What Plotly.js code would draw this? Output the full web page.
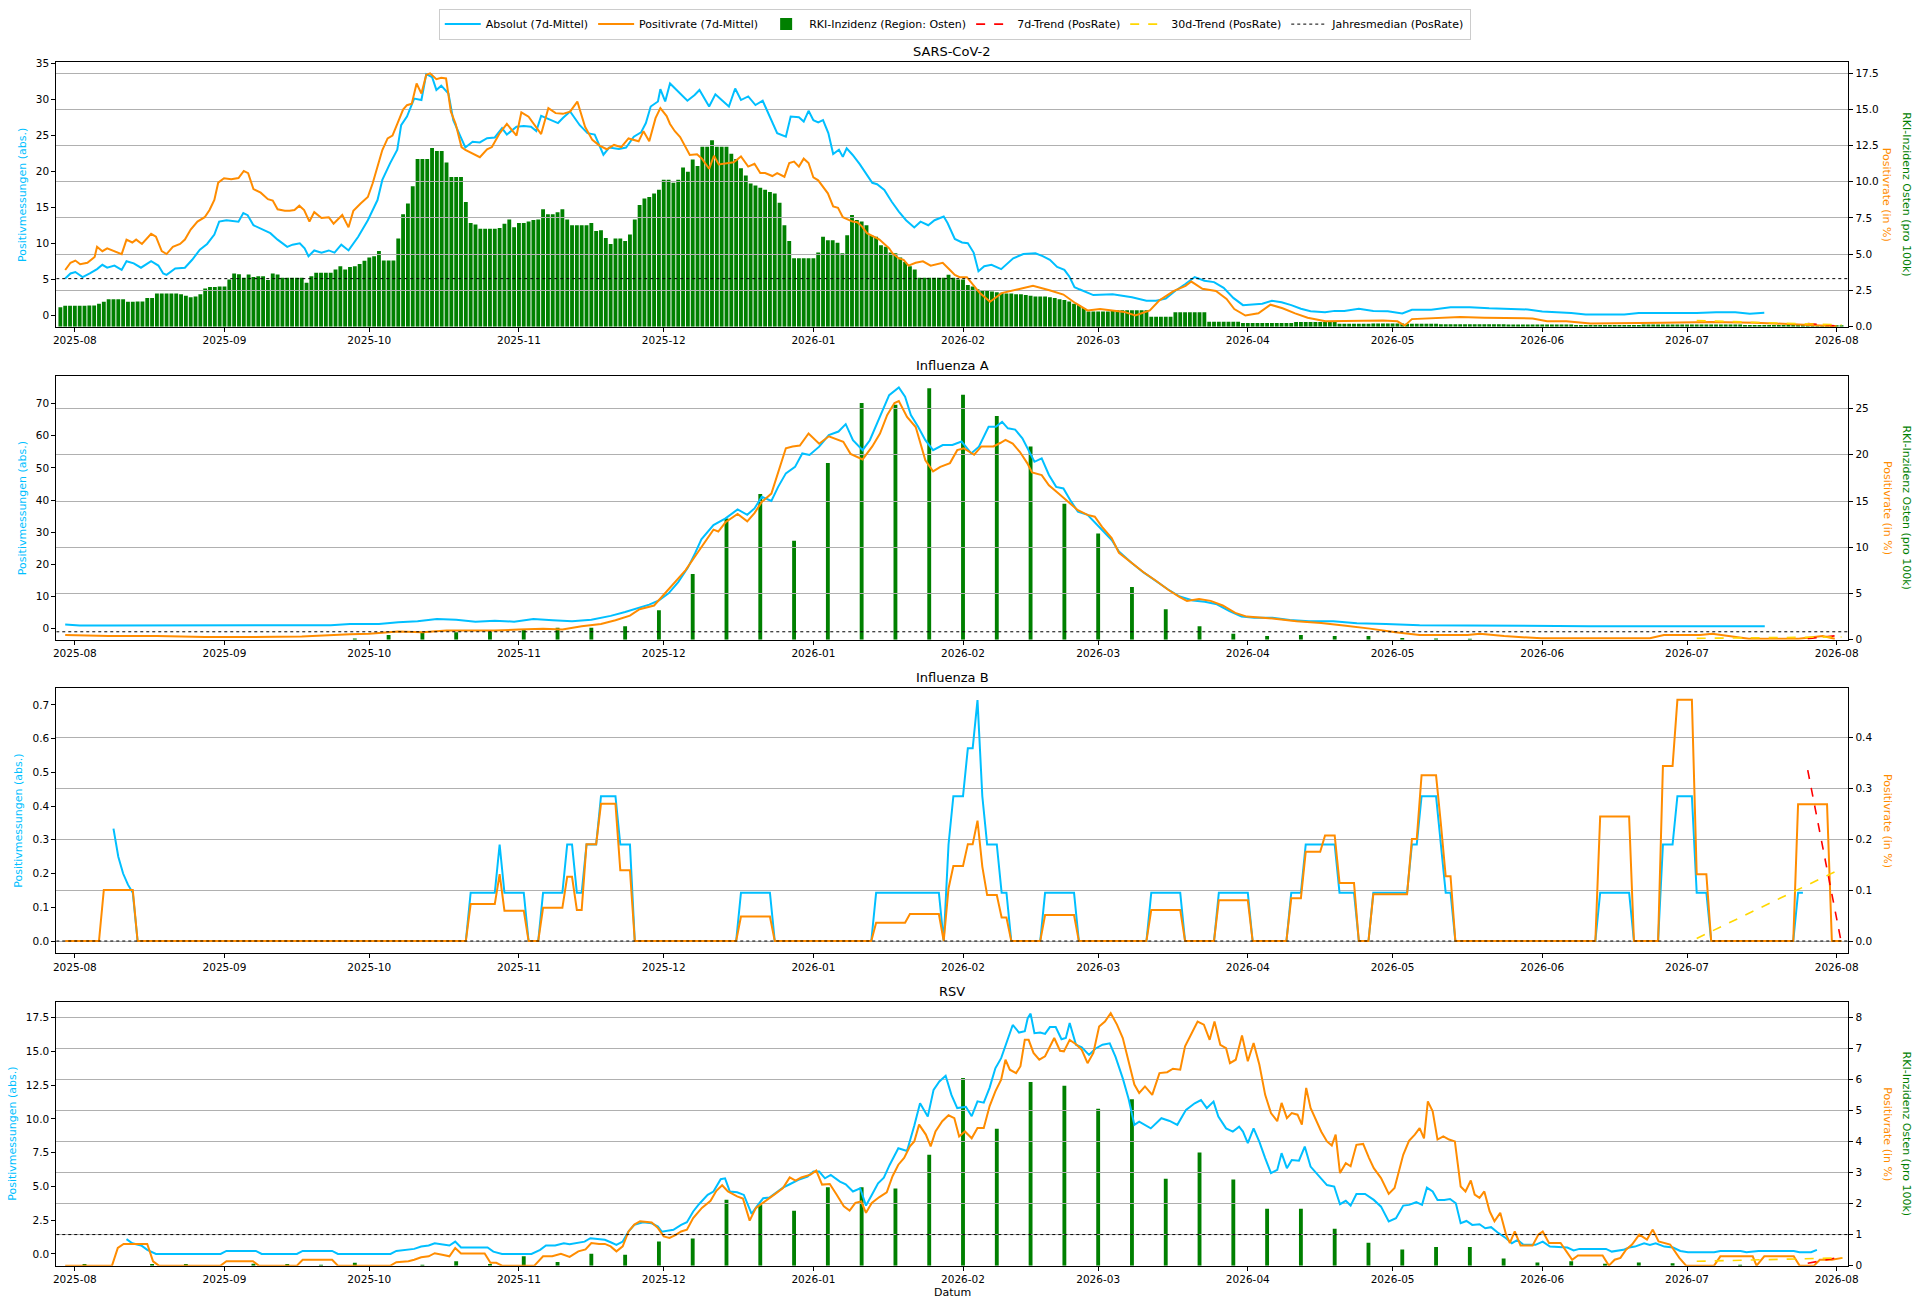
<!DOCTYPE html>
<html>
<head>
<meta charset="utf-8">
<script src="https://cdn.plot.ly/plotly-3.0.1.min.js"></script>
<style>html,body{margin:0;padding:0;background:#fff;}#chart{width:1918px;height:1306px;}</style>
</head>
<body>
<div id="chart"></div>
<script>
// ================= DATA =================
// day 0 = 2025-07-29
const xRangeDays = [-0.85, 370.4];

// --- SARS-CoV-2 ---
const sarsAbs = [[1,5.1],[2.1,5.8],[3.1,6.0],[4.6,5.3],[6.1,5.8],[7.6,6.4],[8.7,7.0],[9.7,6.6],[11.2,6.9],[12.7,6.3],[13.7,7.5],[15.2,7.2],[16.7,6.6],[18.8,7.5],[20.3,6.9],[21.3,5.8],[22,5.6],[23.8,6.5],[25.8,6.6],[27.3,7.7],[28.9,9.1],[30.4,9.9],[31.9,11.2],[32.9,13.0],[34.4,13.2],[35.9,13.1],[36.9,13.0],[37.9,14.2],[38.8,13.9],[40,12.5],[42,11.9],[43.5,11.4],[45,10.5],[47,9.5],[48.1,9.8],[49.6,10.0],[50.6,9.3],[51.4,8.2],[52.6,9.0],[54.1,8.7],[55.6,9.0],[56.8,8.7],[58.2,9.8],[59.7,9.0],[61.7,10.9],[63.7,13.2],[65.7,16.0],[66.7,18.8],[68.3,21.1],[69.8,23.0],[70.6,26.4],[71.8,27.6],[73.3,30.1],[74.8,29.9],[75.8,33.5],[77,33.1],[77.9,31.3],[78.9,31.9],[80.4,30.8],[81.4,27.1],[82.9,24.8],[83.9,23.3],[85.4,24.1],[86.9,24.0],[88.4,24.6],[90,24.7],[91.5,26.0],[92.5,25.1],[94.5,26.2],[96,26.3],[97.5,26.2],[98.6,25.6],[99.6,27.7],[101.6,27.1],[103.1,26.7],[104.1,27.4],[105.6,28.3],[107.6,26.4],[109.2,25.3],[110.7,25.1],[112.5,22.3],[113.7,23.3],[115.7,23.1],[117.2,23.3],[118.8,24.8],[120.3,25.4],[121.3,26.7],[122.3,29.0],[123.8,29.7],[124.3,31.4],[125.3,29.7],[126.3,32.2],[127.9,31.1],[129.9,29.8],[131.4,30.6],[132.4,31.3],[134.4,29.0],[135.7,30.7],[137,29.9],[138.5,29.0],[139.8,31.5],[141,29.9],[142.5,30.4],[144,29.2],[145.5,29.8],[147.5,26.9],[148.5,25.3],[150.3,24.8],[151.3,27.6],[153,27.5],[154,26.9],[155,28.4],[156,27.1],[157,26.8],[158,27.1],[159.1,25.3],[160.1,22.4],[161.3,23.0],[162.1,22.0],[162.9,23.2],[164.1,22.3],[165.6,21.0],[167.1,19.4],[168.2,18.4],[169.2,18.2],[170.7,17.4],[172.2,15.8],[173.7,14.4],[175.2,13.2],[176.9,12.2],[178.2,13.0],[179.8,12.5],[181.1,13.2],[183,13.7],[183.8,12.8],[185.3,10.6],[186.8,10.1],[188,10.0],[189.2,8.7],[190.2,6.1],[191.4,6.8],[192.9,7.0],[194.9,6.4],[196.4,7.3],[197.4,7.9],[199.5,8.5],[201,8.5],[202,8.6],[203.5,8.2],[205,7.7],[206.5,6.7],[208,6.3],[209,5.4],[210.1,3.9],[211.1,3.6],[214,2.8],[218,2.9],[222,2.5],[225,2.0],[227,2.0],[229,2.3],[231,3.4],[233,4.3],[235,5.3],[237,4.8],[239,4.6],[241,3.8],[243,2.4],[245,1.4],[247,1.5],[249,1.6],[251,2.0],[253,1.8],[255,1.4],[257,0.9],[259,0.55],[262,0.4],[264,0.6],[266,0.6],[269,0.9],[272,0.6],[275,0.55],[278,0.25],[280,0.75],[284,0.75],[288,1.1],[292,1.1],[296,0.95],[300,0.85],[304,0.8],[307,0.5],[310,0.45],[313,0.3],[316,0.1],[320,0.1],[324,0.1],[327,0.3],[331,0.3],[335,0.2],[339,0.3],[343,0.4],[347,0.4],[350,0.2],[353,0.35]];
const sarsRate = [[1,3.9],[2.1,4.4],[3.1,4.55],[4.1,4.3],[5.6,4.4],[7.1,4.8],[7.6,5.5],[8.7,5.2],[9.7,5.4],[11.2,5.2],[12.7,5.0],[13.7,6.0],[14.9,5.8],[15.7,6.0],[16.9,5.7],[18.8,6.4],[19.8,6.2],[21,5.2],[22,5.0],[23.3,5.5],[24.8,5.7],[25.8,6.0],[27,6.7],[28.4,7.25],[29.9,7.55],[30.9,8.05],[31.9,8.75],[32.7,9.94],[33.9,10.24],[35.4,10.17],[36.9,10.26],[38,10.75],[38.9,10.6],[40,9.5],[41.5,9.25],[43,8.8],[44,8.7],[45,8.1],[46.5,8.0],[47.5,8.0],[48.5,8.05],[49.5,8.35],[50.5,8.05],[51.6,7.25],[52.6,7.9],[54.1,7.5],[55.6,7.55],[56.6,7.1],[58.4,7.7],[59.7,6.85],[60.7,8.0],[62.2,8.5],[63.7,8.95],[64.7,9.9],[66.7,12.2],[67.8,13.0],[68.8,13.2],[69.8,14.0],[71,15.0],[71.8,15.3],[72.8,15.4],[73.8,16.8],[74.8,16.1],[75.8,17.4],[76.6,17.5],[77.9,17.1],[78.9,17.2],[79.9,17.15],[80.9,14.85],[81.9,14.0],[83.1,12.4],[83.9,12.2],[85.4,11.95],[86.9,11.7],[88.4,12.25],[89.4,12.4],[91,13.35],[92.5,14.0],[94.5,13.2],[95.5,14.8],[97,14.5],[98,14.05],[99.6,13.3],[101.1,15.1],[102.6,14.75],[104.1,14.7],[105.6,14.85],[107.1,15.55],[108.7,13.8],[110.2,12.9],[111.7,12.5],[113.2,12.25],[114.7,12.55],[116.2,12.4],[117.7,13.0],[119.8,12.8],[120.8,13.5],[122,12.8],[123.3,14.4],[124.3,15.1],[125.6,14.55],[126.3,14.0],[127.3,13.5],[128.4,13.1],[130.4,11.85],[131.9,11.9],[132.9,11.6],[134.4,10.9],[135.4,11.8],[136.4,11.2],[138,11.3],[139.5,11.35],[141,11.75],[142.5,11.05],[143.8,11.25],[145,10.6],[146,10.6],[147.5,10.4],[148.5,10.6],[150,10.35],[151,11.3],[152,11.4],[153,11.05],[154,11.6],[155,11.3],[156,10.3],[157,10.1],[159,9.2],[160.1,8.3],[161.1,8.2],[162.1,7.55],[163.1,7.4],[164.1,7.25],[165.1,7.2],[166.1,6.9],[167.1,6.45],[168.6,6.2],[169.7,6.0],[170.7,5.7],[171.7,5.4],[172.4,5.05],[173.7,4.7],[174.7,4.6],[175.7,4.2],[177.2,4.4],[178.7,4.5],[180.3,4.2],[181.8,4.3],[182.8,4.4],[184.3,3.9],[185.3,3.55],[186.3,3.4],[187.8,3.4],[189.4,2.75],[190.5,2.3],[192.6,1.7],[195,2.3],[198.9,2.6],[201.5,2.8],[204.9,2.5],[207.8,2.2],[210.3,1.6],[212.8,1.1],[215.4,1.2],[217.8,1.1],[220.4,1.0],[222.7,0.75],[225.7,1.1],[227.7,1.8],[230.7,2.45],[233.1,2.8],[234.3,3.1],[236.6,2.6],[239.4,2.45],[241.6,1.9],[243.2,1.2],[245.5,0.75],[248.2,0.9],[250.7,1.5],[253.2,1.25],[255.8,0.9],[258.4,0.6],[262.1,0.35],[268,0.4],[274,0.4],[277,0.35],[278.5,0.05],[280,0.5],[285,0.55],[290,0.65],[295,0.6],[300,0.55],[305,0.55],[308,0.35],[312,0.35],[317,0.2],[327,0.2],[332,0.25],[342,0.3],[351,0.25],[359,0.15],[368,0.0]];
// daily RKI values from day 0
const sarsRki = [
2.7,2.9,2.9,2.9,2.9,2.9,2.95,2.95,3.2,3.45,
3.8,3.8,3.8,3.8,3.45,3.45,3.5,3.5,4.0,4.0,
4.6,4.6,4.6,4.6,4.6,4.5,4.3,4.1,4.2,4.5,
5.3,5.5,5.5,5.6,5.6,6.55,7.4,7.3,6.8,7.25,
6.9,7.0,7.0,6.5,7.4,7.25,6.8,6.8,6.8,6.8,
6.8,6.1,7.0,7.5,7.5,7.5,7.5,7.95,8.4,7.95,
8.3,8.4,8.7,9.15,9.6,9.8,10.5,9.2,9.2,9.2,
12.25,15.6,17.1,19.5,23.3,23.3,23.3,24.8,24.4,24.4,
22.8,20.8,20.8,20.8,17.3,14.4,14.2,13.6,13.6,13.6,
13.6,13.7,14.3,14.9,13.8,14.4,14.4,14.6,14.8,14.9,
16.3,15.6,15.6,15.9,16.3,14.9,14.1,14.1,14.1,14.1,
14.4,13.3,13.4,12.3,11.5,12.25,12.25,11.9,12.8,14.9,
16.9,17.8,18.0,18.5,19.0,20.4,20.4,20.0,20.4,22.1,
21.5,23.2,22.3,25.0,25.0,25.9,25.0,25.0,25.0,24.0,
23.3,22.0,21.0,19.9,19.6,19.3,19.0,18.7,18.5,17.2,
14.1,11.9,9.5,9.5,9.5,9.5,9.5,10.3,12.5,12.0,
12.0,11.65,10.2,12.7,15.5,14.8,14.6,14.1,12.7,12.5,
11.3,11.1,10.3,10.2,9.6,9.0,8.4,7.95,6.8,6.8,
6.8,6.8,6.8,6.8,7.2,6.8,6.55,6.55,5.8,5.6,
5.2,5.1,5.0,4.9,4.8,4.7,4.6,4.6,4.5,4.5,
4.4,4.3,4.2,4.2,4.2,4.1,4.0,3.8,3.7,3.5,
3.2,3.0,2.6,2.1,2.1,2.1,2.1,2.1,2.3,2.3,
2.3,2.3,2.3,2.3,2.3,2.3,1.4,1.4,1.4,1.4,
1.4,2.0,2.0,2.0,2.0,2.0,2.0,2.0,0.7,0.7,
0.7,0.7,0.7,0.7,0.7,0.5,0.5,0.5,0.5,0.5,
0.5,0.5,0.5,0.5,0.5,0.5,0.65,0.65,0.65,0.65,
0.65,0.65,0.65,0.65,0.65,
0.4,0.4,0.4,0.4,0.4,0.4,0.4,
0.45,0.45,0.45,0.45,0.45,0.45,0.45,
0.4,0.4,0.4,0.4,0.4,0.4,0.4,
0.35,0.35,0.35,0.35,0.35,0.35,0.35,
0.35,0.35,0.35,0.35,0.35,0.35,0.35,
0.3,0.3,0.3,0.3,0.3,0.3,0.3,
0.3,0.3,0.3,0.3,0.3,0.3,0.3,
0.25,0.25,0.25,0.25,0.25,0.25,0.25,
0.25,0.25,0.25,0.25,0.25,0.25,0.25,
0.3,0.3,0.3,0.3,0.3,0.3,0.3,
0.3,0.3,0.3,0.3,0.3,0.3,0.3,
0.3,0.3,0.3,0.3,0.3,0.3,0.3,
0.25,0.25,0.25,0.25,0.25,0.25,0.25,
0.25,0.25,0.25,0.25,0.25,0.25,0.25,
0.2,0.2,0.2,0.2,0.2,0.2,0.2];
const sarsTrend7 = [[362,0.2],[369,0.0]];
const sarsTrend30 = [[339,0.4],[369,0.1]];
const sarsMedian = 3.3;

// --- Influenza A ---
const fluAAbs = [[1,1.3],[4,1.0],[10,1.0],[20,1.0],[30,0.9],[40,0.9],[50,1.0],[56,1.1],[60,1.5],[66,1.5],[70,2.0],[74,2.3],[78,3.0],[82,2.8],[86,2.2],[90,2.5],[94,2.2],[98,3.0],[102,2.6],[106,2.3],[110,2.8],[114,4.0],[117,5.2],[120,6.5],[122,7.5],[124,8.8],[126,11.0],[128,14.5],[130,19.0],[131.5,23.5],[132.8,27.8],[135.3,32.2],[137.8,34.3],[140.3,37.1],[142.3,35.4],[143.8,37.4],[145.3,41.0],[147.3,39.7],[148.7,44.1],[150.3,48.3],[152.2,50.3],[153.7,54.5],[155.2,54.0],[157.2,56.6],[159.2,60.2],[161.2,61.3],[162.7,63.6],[164.2,58.6],[166.2,55.5],[167.7,58.6],[169.8,65.9],[171.7,72.6],[173.7,75.0],[175.0,72.1],[176.2,66.4],[177.7,62.8],[179.2,58.6],[180.8,55.5],[182.8,57.1],[184.8,57.1],[186.7,58.2],[188.7,54.5],[190.3,56.6],[192.3,62.8],[193.8,62.8],[195.1,64.3],[196.3,62.3],[197.8,61.9],[199.3,59.2],[200.8,54.5],[201.8,51.9],[203.3,53.0],[204.8,47.8],[206.3,44.1],[207.8,43.6],[209.2,40.0],[210.8,36.4],[212.8,35.4],[214.8,32.2],[216.3,29.7],[217.8,27.6],[219.3,24.0],[221.9,20.5],[224.4,17.5],[226.9,14.8],[229.5,12.2],[231.9,10.0],[234.6,8.8],[237.1,8.4],[239.6,7.6],[242.2,5.5],[244.7,3.8],[247.3,3.4],[251.1,3.4],[254.7,2.7],[258.7,2.3],[263.7,2.3],[268.6,1.7],[274.6,1.5],[281.6,1.1],[291.5,1.0],[304.4,0.8],[316.9,0.8],[329.3,0.8],[342.2,0.8],[353.1,0.8]];
const fluARate = [[1,0.5],[10,0.4],[20,0.4],[30,0.3],[40,0.3],[50,0.35],[60,0.6],[64,0.65],[70,0.9],[75,0.8],[80,1.0],[90,1.0],[95,1.1],[100,1.2],[104,1.1],[108,1.45],[112,1.7],[115,2.1],[118,2.6],[120,3.3],[123,3.7],[124.5,4.6],[127,6.0],[129.5,7.5],[132,9.4],[133.8,10.8],[135.3,11.9],[136.3,11.7],[137.8,12.7],[140.3,13.6],[142.3,12.8],[143.8,13.7],[145.3,14.9],[147.3,15.8],[148.7,18.0],[150.3,20.7],[151.7,20.9],[153.2,21.0],[155.0,22.3],[157.2,21.2],[159.2,22.0],[161.2,21.6],[162.2,21.4],[163.7,20.1],[166.2,19.5],[168.2,20.9],[169.8,22.3],[171.3,24.3],[172.8,25.6],[173.7,25.8],[175.4,24.1],[177.2,23.0],[178.2,21.2],[179.2,19.4],[180.8,18.2],[182.3,18.7],[184.3,19.1],[185.8,20.5],[187.2,20.7],[189.3,20.0],[190.8,20.9],[193.3,20.9],[194.8,21.3],[195.8,21.6],[197.3,21.2],[198.8,20.3],[200.3,19.1],[201.3,18.1],[203.3,17.8],[204.8,16.7],[206.8,15.8],[208.8,14.9],[210.8,14.0],[212.8,13.5],[214.3,13.3],[215.8,12.2],[217.8,11.0],[219.3,9.4],[221.9,8.3],[224.4,7.3],[226.9,6.4],[229.5,5.4],[231.9,4.6],[233.4,4.2],[235.9,4.4],[238.3,4.2],[240.8,3.7],[243.4,2.9],[245.8,2.5],[248.5,2.4],[251.1,2.3],[256.1,2.0],[261.2,1.8],[266.3,1.5],[271.3,1.2],[276.6,0.8],[281.6,0.5],[291.5,0.5],[294.1,0.65],[299.1,0.4],[306.8,0.15],[329.3,0.15],[332.2,0.5],[339.7,0.5],[342.2,0.65],[349.8,0.1],[360.1,0.1],[365.1,0.4],[367.6,0.1]];
const fluARki = [[61,0.13],[68,0.5],[75,0.8],[82,0.8],[89,0.9],[96,1.05],[103,1.3],[110,1.3],[117,1.45],[124,3.2],[131,7.1],[138,13.1],[145,15.75],[152,10.7],[159,19.1],[166,25.6],[173,25.4],[180,27.2],[187,26.5],[194,24.2],[201,20.9],[208,14.7],[215,11.5],[222,5.7],[229,3.3],[236,1.45],[243,0.65],[250,0.4],[257,0.5],[264,0.4],[271,0.4],[278,0.2],[285,0.13],[292,0.1]];
const fluATrend7 = [[362,0.1],[369,0.5]];
const fluATrend30 = [[339,0.15],[369,0.3]];
const fluAMedian = 0.86;

// --- Influenza B (daily step values: value holds from its day until the next change) ---
const fluBAbsChangeDays = [11,12,13,14,15,16,85,91,92,97,100,105,107,109,112,116,119,141,148,169,183,184,185,188,190,191,192,195,197,204,211,226,233,240,247,255,258,265,269,272,280,282,286,287,289,319,326,332,335,339,342,360];
const fluBAbsChangeVals = [0.333,0.25,0.2,0.167,0.143,0,0.143,0.286,0.143,0,0.143,0.286,0.143,0.286,0.429,0.286,0,0.143,0,0.143,0,0.286,0.429,0.571,0.714,0.429,0.286,0.143,0,0.143,0,0.143,0,0.143,0,0.143,0.286,0.143,0,0.143,0.286,0.429,0.286,0.143,0,0.143,0,0.286,0.429,0.143,0,0.143];
const fluBAbsEndDay = 361;
const fluBRateChangeDays = [1,9,16,85,91,92,97,100,105,107,109,112,116,119,141,148,169,176,183,184,185,188,190,191,192,195,197,204,211,226,233,240,247,255,258,262,265,269,272,280,282,286,287,289,319,326,332,335,339,342,360,367];
const fluBRateChangeVals = [0,0.1,0,0.0725,0.131,0.0595,0,0.065,0.126,0.061,0.19,0.269,0.139,0,0.048,0,0.036,0.053,0,0.103,0.147,0.19,0.236,0.146,0.09,0.046,0,0.051,0,0.061,0,0.08,0,0.084,0.175,0.207,0.114,0,0.0915,0.2,0.325,0.23,0.127,0,0.244,0,0.343,0.473,0.131,0,0.268,0];
const fluBRateEndDay = 369;
const fluBTrend7 = [[362,0.335],[369,-0.005]];
const fluBTrend30 = [[339,0.005],[369,0.142]];
const fluBMedian = 0;

// --- RSV ---
const rsvAbs = [[13.7,1.09],[14.9,0.79],[16.75,0.62],[18,0.3],[19.8,0],[33.2,0],[34.4,0.22],[40.5,0.22],[41.7,0],[49,0],[50.2,0.22],[56.3,0.22],[57.5,0],[68.4,0],[69.6,0.22],[72.1,0.3],[73.3,0.37],[74.75,0.54],[76.3,0.62],[77.55,0.79],[79.1,0.72],[80.6,0.62],[81.8,0.91],[83,0.47],[88.5,0.47],[89.7,0.17],[91.5,0],[97.6,0],[99.4,0.3],[100.6,0.62],[102.5,0.62],[104.3,0.79],[105.5,0.72],[107.3,0.86],[108.6,0.91],[109.8,1.16],[111,1.09],[112.8,1.04],[114,0.86],[115.2,0.67],[116.5,0.91],[117.7,1.65],[118.9,2.15],[120.7,2.35],[122.5,2.27],[123.8,2.02],[124.6,1.65],[125.8,1.7],[127,1.78],[128.6,2.15],[129.8,2.35],[131.1,3.14],[132.3,3.68],[134.1,4.37],[135.3,4.62],[136.8,5.53],[137.7,5.6],[138.7,4.62],[140.2,4.57],[141.6,4.37],[143.2,2.96],[144.4,3.58],[145.6,4.12],[146.9,4.17],[148.1,4.49],[149.7,4.91],[151.1,5.16],[152.9,5.48],[154.8,5.73],[156,6.1],[157.2,6.1],[158.4,5.6],[159.6,5.85],[161.5,5.36],[162.7,5.16],[164.2,4.62],[165.7,4.86],[166.9,3.58],[168.1,4.37],[169.4,5.23],[170.6,5.65],[171.8,6.59],[173.6,7.83],[175.4,7.63],[176.9,9.5],[178.1,11.16],[179.7,10.17],[180.9,12.15],[182.1,12.77],[183.4,13.2],[184.6,11.78],[185.8,10.8],[187.6,10.9],[188.8,10.2],[190,11.3],[191.3,11.2],[192.5,12.3],[193.7,13.75],[194.9,14.5],[196.1,15.7],[197.3,16.96],[198.6,16.4],[199.8,16.5],[200.4,17.46],[201,17.8],[201.8,16.35],[203,16.4],[204,16.3],[205,16.8],[206.2,16.8],[207.4,15.9],[208.3,16.0],[209.1,17.1],[210.4,15.5],[211.6,15.3],[213.1,14.74],[214.4,15.2],[215.9,15.5],[217.4,15.6],[218.6,14.6],[220.1,13.0],[221.3,11.5],[222.5,9.56],[223.5,9.8],[224.7,9.56],[225.9,9.3],[228.1,10.05],[229.8,9.85],[231.4,9.56],[233.2,10.67],[235,11.16],[236.3,11.4],[237.5,10.8],[238.9,11.28],[239.9,10.17],[241.5,9.3],[242.9,9.06],[244.2,9.43],[245,9.06],[246,8.2],[247.2,9.3],[248.4,8.3],[249.6,7.1],[250.8,5.98],[252.1,6.22],[253,7.46],[254.1,6.35],[255.1,6.96],[256.6,6.9],[257.8,7.95],[259,6.47],[260.6,5.85],[262.4,5.1],[263.9,4.99],[265.1,3.68],[266.3,3.93],[267.3,3.58],[268.5,4.44],[270.3,4.44],[272.1,4.0],[273.6,3.5],[275.2,2.4],[276.7,2.64],[278.2,3.58],[279.4,3.63],[280.9,3.83],[282.1,3.63],[283.1,4.91],[284.3,4.62],[285.3,4.0],[286.7,4.0],[287.9,4.07],[289.1,3.75],[290.1,2.27],[291.3,2.44],[292.5,2.15],[294,2.2],[295.2,1.9],[296.4,1.98],[297.7,1.6],[299.5,1.16],[300.7,0.79],[301.9,1.04],[303.1,0.67],[305.6,0.67],[307.1,0.91],[308.6,0.54],[312.2,0.47],[313.5,0.25],[314.7,0.37],[320.2,0.37],[321.4,0.17],[322.6,0.25],[323.8,0.3],[325,0.47],[326.2,0.54],[328.1,0.79],[329.3,0.67],[330.5,0.79],[332.3,0.54],[334.1,0.47],[335.6,0.22],[337.2,0.12],[342.6,0.12],[343.9,0.22],[348.1,0.22],[349.3,0.12],[351.8,0.22],[359.1,0.22],[360.3,0.12],[362.7,0.12],[363.9,0.3]];
const rsvRate = [[1,0],[10.7,0],[11.9,0.57],[13.1,0.7],[18,0.7],[19.2,0.14],[20.4,0],[33.2,0],[34.4,0.14],[39.9,0.14],[41.1,0],[49,0],[50.2,0.19],[56.3,0.19],[57.5,0],[68.4,0],[69.6,0.11],[72.1,0.14],[73.3,0.19],[74.75,0.27],[76.3,0.3],[77.55,0.4],[79.1,0.35],[80.6,0.3],[81.8,0.57],[83,0.39],[87.9,0.39],[89.1,0.09],[90.3,0.09],[91.5,0],[98.2,0],[100,0.3],[101.9,0.3],[103.7,0.38],[105.5,0.28],[107.3,0.46],[108.8,0.52],[110,0.73],[111.6,0.7],[112.8,0.7],[114,0.62],[115.2,0.46],[116.5,0.62],[117.7,1.1],[118.9,1.32],[120.1,1.43],[122.5,1.39],[123.8,1.21],[125,0.94],[126.2,0.89],[127.4,0.98],[128.6,1.1],[129.8,1.16],[131.1,1.53],[132.9,1.86],[134.7,2.09],[135.9,2.41],[137.1,2.59],[138.3,2.39],[140.2,2.23],[141.4,2.16],[142.8,1.45],[144.1,1.86],[145.6,2.02],[146.9,2.18],[148.1,2.31],[149.7,2.5],[151.1,2.84],[152.3,2.74],[153.5,2.84],[155.4,2.93],[156.6,3.06],[157.8,2.61],[159.4,2.63],[160.8,2.29],[162.3,1.91],[163.5,1.77],[164.7,2.02],[165.9,2.07],[166.9,1.7],[168.1,2.02],[169.6,2.2],[171.2,2.36],[172.4,2.88],[173.6,3.25],[174.8,3.47],[176,3.84],[176.9,4.0],[177.9,4.54],[179.3,4.22],[180.3,3.84],[181.3,4.32],[182.7,4.65],[184,4.84],[185.2,4.75],[186.2,4.16],[187.4,4.32],[188.8,4.1],[190,4.43],[191.3,4.43],[192.5,5.13],[193.7,5.61],[194.9,5.99],[195.8,6.63],[196.7,6.31],[198,6.2],[198.9,6.42],[199.8,7.27],[200.6,7.27],[201.6,6.85],[202.8,6.63],[204,6.74],[205.9,7.33],[207.1,6.92],[207.9,6.9],[209.1,7.27],[210.4,7.13],[211.6,6.95],[212.8,6.52],[214,6.85],[215.2,7.7],[216.4,7.86],[217.6,8.13],[218.9,7.76],[220.1,7.33],[221.3,6.58],[222.5,5.83],[223.5,5.56],[224.7,5.77],[226.2,5.5],[227.7,6.2],[229.3,6.23],[230.5,6.34],[232,6.31],[233,7.06],[234.4,7.49],[235.6,7.86],[236.9,7.76],[238.1,7.27],[239.1,7.86],[240.3,7.11],[241.5,7.0],[242.3,6.52],[243.5,6.63],[244.8,7.41],[246,6.58],[247.2,7.17],[248.4,6.47],[249.6,5.5],[250.8,4.91],[252.1,4.65],[253,5.24],[254.1,4.75],[255.1,4.91],[256.3,4.86],[257.2,4.54],[258.1,5.72],[259,5.08],[260,4.73],[261.2,4.32],[262.4,4.0],[263.4,3.87],[264.2,4.22],[265.1,2.98],[266.3,3.3],[267.3,3.2],[268.5,3.89],[269.9,3.92],[271.1,3.47],[272.1,3.14],[273.6,2.82],[275.2,2.31],[276.4,2.5],[278.2,3.57],[279.4,4.02],[280.6,4.22],[281.6,4.43],[282.5,4.1],[283.3,5.29],[284.3,4.97],[285.3,4.06],[286.5,4.16],[287.7,4.06],[288.9,4.0],[290.1,2.55],[291.1,2.39],[292.2,2.74],[293,2.29],[294,2.18],[295,2.39],[296.1,1.75],[297.1,1.43],[298.3,1.7],[299.5,1.0],[300.3,0.73],[301.3,1.1],[302.5,0.65],[305,0.65],[306.2,1.0],[307.1,1.1],[308.4,0.73],[310.8,0.73],[312,0.46],[313.2,0.19],[314.4,0.33],[319.5,0.33],[320.8,0],[322,0.19],[323.2,0.25],[324.4,0.52],[325.6,0.68],[327.1,1.0],[328.7,0.84],[329.9,1.16],[331.1,0.78],[332.3,0.73],[333.5,0.68],[335.4,0.25],[336.8,0],[342.6,0],[343.9,0.3],[350.6,0.3],[351.4,0],[353,0.3],[359.1,0.3],[360.3,0],[363.3,0],[364.5,0.19],[367,0.19],[369.2,0.25]];
const rsvRki = [[5,0.05],[12,0],[19,0.05],[26,0.05],[33,0],[40,0.06],[47,0.05],[54,0.03],[61,0.09],[68,0],[75,0.03],[82,0.14],[89,0.05],[96,0.3],[103,0.12],[110,0.38],[117,0.35],[124,0.78],[131,0.87],[138,2.12],[145,1.96],[152,1.77],[159,2.52],[166,2.52],[173,2.48],[180,3.57],[187,6.04],[194,4.41],[201,5.91],[208,5.79],[215,5.05],[222,5.36],[229,2.8],[236,3.64],[243,2.77],[250,1.83],[257,1.83],[264,1.19],[271,0.74],[278,0.52],[285,0.6],[292,0.6],[299,0.23],[306,0.1],[313,0.14],[320,0.06],[327,0.1],[334,0.08],[341,0],[348,0.03]];
const rsvTrend7 = [[362,0.075],[369,0.28]];
const rsvTrend30 = [[339,0.14],[369,0.25]];
const rsvMedian = 1.0;

// ================= HELPERS =================
const DAY = 86400000;
const BASE = Date.UTC(2025, 6, 29);
function dayToDate(d) { return new Date(BASE + d * DAY).toISOString().replace('T', ' ').slice(0, 19); }
function pairsX(p) { return p.map(a => dayToDate(a[0])); }
function pairsY(p) { return p.map(a => a[1]); }
function expandSteps(days, vals, endDay) {
  const xs = [], ys = []; let j = 0;
  for (let d = days[0]; d <= endDay; d++) {
    while (j + 1 < days.length && days[j + 1] <= d) j++;
    xs.push(dayToDate(d)); ys.push(vals[j]);
  }
  return { x: xs, y: ys };
}

const COL_ABS = '#00BFFF', COL_RATE = '#FF8C00', COL_RKI = '#008000', COL_T7 = '#FF0000', COL_T30 = '#FFD700';
const DW = 1568, DH = 1067.7; // reference design grid
const px = v => v / DW;
const py = v => 1 - v / DH;
const xDom = [px(46), px(1511)];
const xr = [dayToDate(xRangeDays[0]), dayToDate(xRangeDays[1])];

const fluBAbsSeries = expandSteps(fluBAbsChangeDays, fluBAbsChangeVals, fluBAbsEndDay);
const fluBRateSeries = expandSteps(fluBRateChangeDays, fluBRateChangeVals, fluBRateEndDay);

const panels = [
  { title: 'SARS-CoV-2', top: 51, bot: 267.1, lx: 5, ay: 5, ry: 6, bx: 2, by: 2,
    absRange: [-1.6, 35.13], absDtick: 5, absFmt: 'd', rateRange: [-0.025, 18.26], rateDtick: 2.5, rateFmt: '.1f', rkiRange: [0, 36.7],
    absX: pairsX(sarsAbs), absY: pairsY(sarsAbs), rateX: pairsX(sarsRate), rateY: pairsY(sarsRate),
    rkiX: sarsRki.map((v, i) => dayToDate(i)), rkiY: sarsRki,
    t7: sarsTrend7, t30: sarsTrend30, median: sarsMedian, leftLabelX: 18.3 },
  { title: 'Influenza A', top: 307.3, bot: 523, lx: 6, ay: 7, ry: 8, bx: 3, by: 3,
    absRange: [-3.42, 78.6], absDtick: 10, absFmt: 'd', rateRange: [0, 28.53], rateDtick: 5, rateFmt: 'd', rkiRange: [0, 28.53],
    absX: pairsX(fluAAbs), absY: pairsY(fluAAbs), rateX: pairsX(fluARate), rateY: pairsY(fluARate),
    rkiX: pairsX(fluARki), rkiY: pairsY(fluARki),
    t7: fluATrend7, t30: fluATrend30, median: fluAMedian, leftLabelX: 18.3 },
  { title: 'Influenza B', top: 562.7, bot: 779.4, lx: 7, ay: 9, ry: 10,
    absRange: [-0.0366, 0.749], absDtick: 0.1, absFmt: '.1f', rateRange: [-0.0242, 0.4956], rateDtick: 0.1, rateFmt: '.1f',
    absX: fluBAbsSeries.x, absY: fluBAbsSeries.y, rateX: fluBRateSeries.x, rateY: fluBRateSeries.y,
    t7: fluBTrend7, t30: fluBTrend30, median: fluBMedian, leftLabelX: 15.5 },
  { title: 'RSV', top: 819.4, bot: 1034.7, lx: 8, ay: 11, ry: 12, bx: 4, by: 4,
    absRange: [-0.87, 18.64], absDtick: 2.5, absFmt: '.1f', rateRange: [0, 8.48], rateDtick: 1, rateFmt: 'd', rkiRange: [0, 8.48],
    absX: pairsX(rsvAbs), absY: pairsY(rsvAbs), rateX: pairsX(rsvRate), rateY: pairsY(rsvRate),
    rkiX: pairsX(rsvRki), rkiY: pairsY(rsvRki),
    t7: rsvTrend7, t30: rsvTrend30, median: rsvMedian, leftLabelX: 10.5 }
];

const FONT = 'DejaVu Sans, Verdana, sans-serif';
const layout = {
  width: 1918, height: 1306, autosize: false,
  margin: { l: 0, r: 0, t: 0, b: 0, pad: 0 },
  paper_bgcolor: '#ffffff', plot_bgcolor: 'rgba(0,0,0,0)',
  font: { family: FONT, size: 11, color: '#000000' },
  hovermode: false,
  showlegend: true,
  legend: { orientation: 'h', x: 0.4978, xanchor: 'center', y: 0.9934, yanchor: 'top',
    bgcolor: 'rgba(255,255,255,0.85)', bordercolor: '#cccccc', borderwidth: 1, itemwidth: 36,
    font: { size: 11, family: FONT }, traceorder: 'normal' },
  annotations: []
};

const traces = [];
// bars first (drawn in lower subplots)
panels.forEach((p, i) => {
  if (!p.bx) return;
  const dom = [py(p.bot), py(p.top)];
  layout['xaxis' + p.bx] = { domain: xDom, anchor: 'y' + p.by, type: 'date', range: xr, visible: false, fixedrange: true };
  layout['yaxis' + p.by] = { domain: dom, anchor: 'x' + p.bx, range: p.rkiRange, visible: false, fixedrange: true };
  traces.push({ type: 'bar', x: p.rkiX, y: p.rkiY, xaxis: 'x' + p.bx, yaxis: 'y' + p.by,
    width: 0.8 * DAY, marker: { color: COL_RKI, line: { width: 0 } },
    name: 'RKI-Inzidenz (Region: Osten)', showlegend: i === 0, legendrank: 3 });
});

panels.forEach((p, i) => {
  const dom = [py(p.bot), py(p.top)];
  const tickfont = { size: 10.5, family: FONT, color: '#000' };
  layout['xaxis' + p.lx] = { domain: xDom, anchor: 'y' + p.ay, type: 'date', range: xr,
    tickformat: '%Y-%m', dtick: 'M1', tick0: '2025-08-01', ticks: 'outside', ticklen: 4, tickwidth: 1, tickcolor: '#000',
    showline: true, linecolor: '#000', linewidth: 1, mirror: true, showgrid: false, zeroline: false,
    tickfont: tickfont, automargin: false, fixedrange: true };
  layout['yaxis' + p.ay] = { domain: dom, anchor: 'x' + p.lx, range: p.absRange, dtick: p.absDtick, tick0: 0, tickformat: p.absFmt,
    ticks: 'outside', ticklen: 4, tickwidth: 1, tickcolor: '#000', showline: true, linecolor: '#000', linewidth: 1,
    showgrid: false, zeroline: false, tickfont: tickfont, automargin: false, fixedrange: true };
  layout['yaxis' + p.ry] = { domain: dom, anchor: 'x' + p.lx, overlaying: 'y' + p.ay, side: 'right',
    range: p.rateRange, dtick: p.rateDtick, tick0: 0, tickformat: p.rateFmt,
    ticks: 'outside', ticklen: 4, tickwidth: 1, tickcolor: '#000', showline: true, linecolor: '#000', linewidth: 1,
    showgrid: true, gridcolor: '#b0b0b0', gridwidth: 1, zeroline: false, tickfont: tickfont, automargin: false, fixedrange: true };

  const xa = 'x' + p.lx;
  traces.push({ type: 'scatter', mode: 'lines', x: p.absX, y: p.absY, xaxis: xa, yaxis: 'y' + p.ay,
    line: { color: COL_ABS, width: 2 }, name: 'Absolut (7d-Mittel)', showlegend: i === 0, legendrank: 1 });
  traces.push({ type: 'scatter', mode: 'lines', x: p.rateX, y: p.rateY, xaxis: xa, yaxis: 'y' + p.ry,
    line: { color: COL_RATE, width: 2 }, name: 'Positivrate (7d-Mittel)', showlegend: i === 0, legendrank: 2 });
  traces.push({ type: 'scatter', mode: 'lines', x: pairsX(p.t7), y: pairsY(p.t7), xaxis: xa, yaxis: 'y' + p.ry,
    line: { color: COL_T7, width: 1.6, dash: 'dash' }, name: '7d-Trend (PosRate)', showlegend: i === 0, legendrank: 4 });
  traces.push({ type: 'scatter', mode: 'lines', x: pairsX(p.t30), y: pairsY(p.t30), xaxis: xa, yaxis: 'y' + p.ry,
    line: { color: COL_T30, width: 1.6, dash: 'dash' }, name: '30d-Trend (PosRate)', showlegend: i === 0, legendrank: 5 });
  traces.push({ type: 'scatter', mode: 'lines', x: xr, y: [p.median, p.median], xaxis: xa, yaxis: 'y' + p.ry,
    line: { color: '#000000', width: 1, dash: 'dot' }, name: 'Jahresmedian (PosRate)', showlegend: i === 0, legendrank: 6 });

  const mid = (py(p.top) + py(p.bot)) / 2;
  layout.annotations.push({ text: p.title, xref: 'paper', yref: 'paper', x: (xDom[0] + xDom[1]) / 2, y: py(p.top) + 10.8 / 1306,
    xanchor: 'center', yanchor: 'middle', showarrow: false, font: { size: 13, family: FONT, color: '#000' } });
  layout.annotations.push({ text: 'Positivmessungen (abs.)', xref: 'paper', yref: 'paper', x: px(p.leftLabelX), y: mid,
    xanchor: 'center', yanchor: 'middle', textangle: -90, showarrow: false, font: { size: 11, family: FONT, color: COL_ABS } });
  layout.annotations.push({ text: 'Positivrate (in %)', xref: 'paper', yref: 'paper', x: px(1542.5), y: mid,
    xanchor: 'center', yanchor: 'middle', textangle: 90, showarrow: false, font: { size: 11, family: FONT, color: COL_RATE } });
  if (p.bx) {
    layout.annotations.push({ text: 'RKI-Inzidenz Osten (pro 100k)', xref: 'paper', yref: 'paper', x: px(1558.5), y: mid,
      xanchor: 'center', yanchor: 'middle', textangle: 90, showarrow: false, font: { size: 11, family: FONT, color: COL_RKI } });
  }
});
layout.annotations.push({ text: 'Datum', xref: 'paper', yref: 'paper', x: (xDom[0] + xDom[1]) / 2, y: py(1057),
  xanchor: 'center', yanchor: 'middle', showarrow: false, font: { size: 11, family: FONT, color: '#000' } });

Plotly.newPlot('chart', traces, layout, { displayModeBar: false, staticPlot: true });
</script>
</body>
</html>
